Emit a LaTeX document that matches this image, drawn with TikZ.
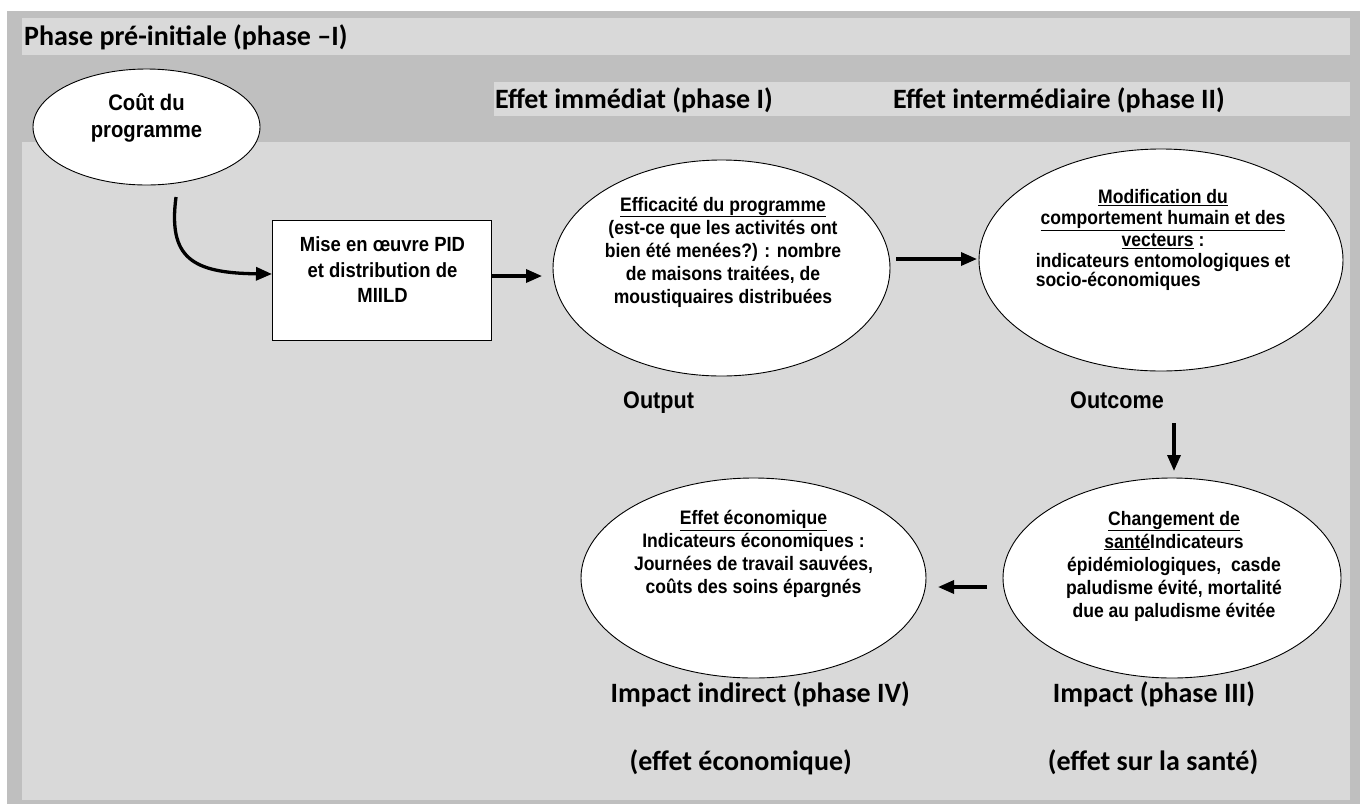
\documentclass[tikz,border=0pt]{standalone}
\usepackage{fontspec}
\setmainfont{Carlito}
\newfontfamily\headfont{Carlito}
\newfontfamily\narfont{Liberation Sans}[FakeStretch=0.9]
\usetikzlibrary{arrows.meta,shapes.geometric}
\definecolor{darkbg}{HTML}{BFBFBF}
\definecolor{lightbg}{HTML}{D9D9D9}
\tikzset{
  ell/.style={ellipse, draw, fill=white, line width=0.9pt, inner sep=0pt},
  boxnode/.style={draw, fill=white, line width=0.9pt, inner sep=0pt},
  head/.style={font=\headfont\bfseries\fontsize{28}{30}\selectfont, inner sep=0pt},
  etxt/.style={font=\narfont\bfseries\fontsize{19.5}{23}\selectfont, align=center, inner sep=0pt},
  mtxt/.style={font=\narfont\bfseries\fontsize{19.5}{21.5}\selectfont, align=center, inner sep=0pt},
  btxt/.style={font=\narfont\bfseries\fontsize{20.5}{25.5}\selectfont, align=center, inner sep=0pt},
  ctxt/.style={font=\narfont\bfseries\fontsize{22.5}{27}\selectfont, align=center, inner sep=0pt},
  lab/.style={font=\narfont\bfseries\fontsize{24}{28}\selectfont, inner sep=0pt},
  arr/.style={line width=3.3pt, -{Triangle[length=16pt,width=13pt]}},
}
\begin{document}
\begin{tikzpicture}[x=1pt,y=-1pt]
\useasboundingbox (0,0) rectangle (1370,804);
\fill[white] (0,0) rectangle (1370,804);
\fill[darkbg] (7,11) rectangle (1360,804);
\fill[lightbg] (22,18) rectangle (1350,55);
\fill[lightbg] (494,82) rectangle (1350,116);
\fill[lightbg] (22,142) rectangle (1350,800);

\node[head, anchor=base west] (phase0) at (24,45) {Phase pré-initiale (phase –I)};
\node[head, anchor=base west] (phase1) at (495,108) {Effet immédiat (phase I)};
\node[head, anchor=base west] (phase2) at (893,108) {Effet intermédiaire (phase II)};

\node[ell, minimum width=227pt, minimum height=116pt] (cout) at (146.5,127) {};
\node[ctxt] (couttxt) at (146.5,118) {Coût du\\programme};

\node[boxnode, minimum width=219pt, minimum height=120pt] (mise) at (381.5,280) {};
\node[btxt] (misetxt) at (382.5,270) {Mise en œuvre PID\\et distribution de\\MIILD};

\node[ell, minimum width=337pt, minimum height=216pt] (eff) at (721.5,268) {};
\node[etxt] (efftxt) at (723,252) {\underline{Efficacité du programme}\\(est-ce que les activités ont\\bien été menées?) : nombre\\de maisons traitées, de\\moustiquaires distribuées};

\node[ell, minimum width=364pt, minimum height=222pt] (mod) at (1161,260) {};
\node[mtxt] (modtxt) at (1163,241) {\underline{Modification du}\\\underline{comportement humain et des}\\\underline{vecteurs} :\\\begin{tabular}[t]{@{}l@{}}indicateurs entomologiques et\\[-3pt]socio-économiques\end{tabular}};

\node[lab, anchor=base west] (output) at (623,408) {Output};
\node[lab, anchor=base west] (outcome) at (1070,408) {Outcome};

\node[ell, minimum width=338pt, minimum height=200pt] (sante) at (1172,578) {};
\node[etxt] (santetxt) at (1174,566) {\underline{Changement de}\\\underline{santé}Indicateurs\\épidémiologiques,\ \ casde\\paludisme évité, mortalité\\due au paludisme évitée};

\node[ell, minimum width=345pt, minimum height=200pt] (eco) at (753.5,578) {};
\node[etxt] (ecotxt) at (753.5,554) {\underline{Effet économique}\\Indicateurs économiques :\\Journées de travail sauvées,\\coûts des soins épargnés};

\node[head, anchor=base east] (imp4) at (910,702) {Impact indirect (phase IV)};
\node[head, anchor=base] (imp3) at (1154,702) {Impact (phase III)};
\node[head, anchor=base east] (eco4) at (852,770) {(effet économique)};
\node[head, anchor=base] (san3) at (1153,770) {(effet sur la santé)};

\coordinate (c1) at (176,197);
\coordinate (c2) at (272,274);
\draw[arr] (c1) .. controls (168,258) and (192,273) .. (c2);
\coordinate (a1) at (492,276);
\coordinate (a2) at (542,276);
\draw[arr] (a1) -- (a2);
\coordinate (b1) at (896,259);
\coordinate (b2) at (977,259);
\draw[arr] (b1) -- (b2);
\coordinate (d1) at (1174,423);
\coordinate (d2) at (1174,471);
\draw[arr] (d1) -- (d2);
\coordinate (e1) at (987,587);
\coordinate (e2) at (938,587);
\draw[arr] (e1) -- (e2);
\end{tikzpicture}
\end{document}
